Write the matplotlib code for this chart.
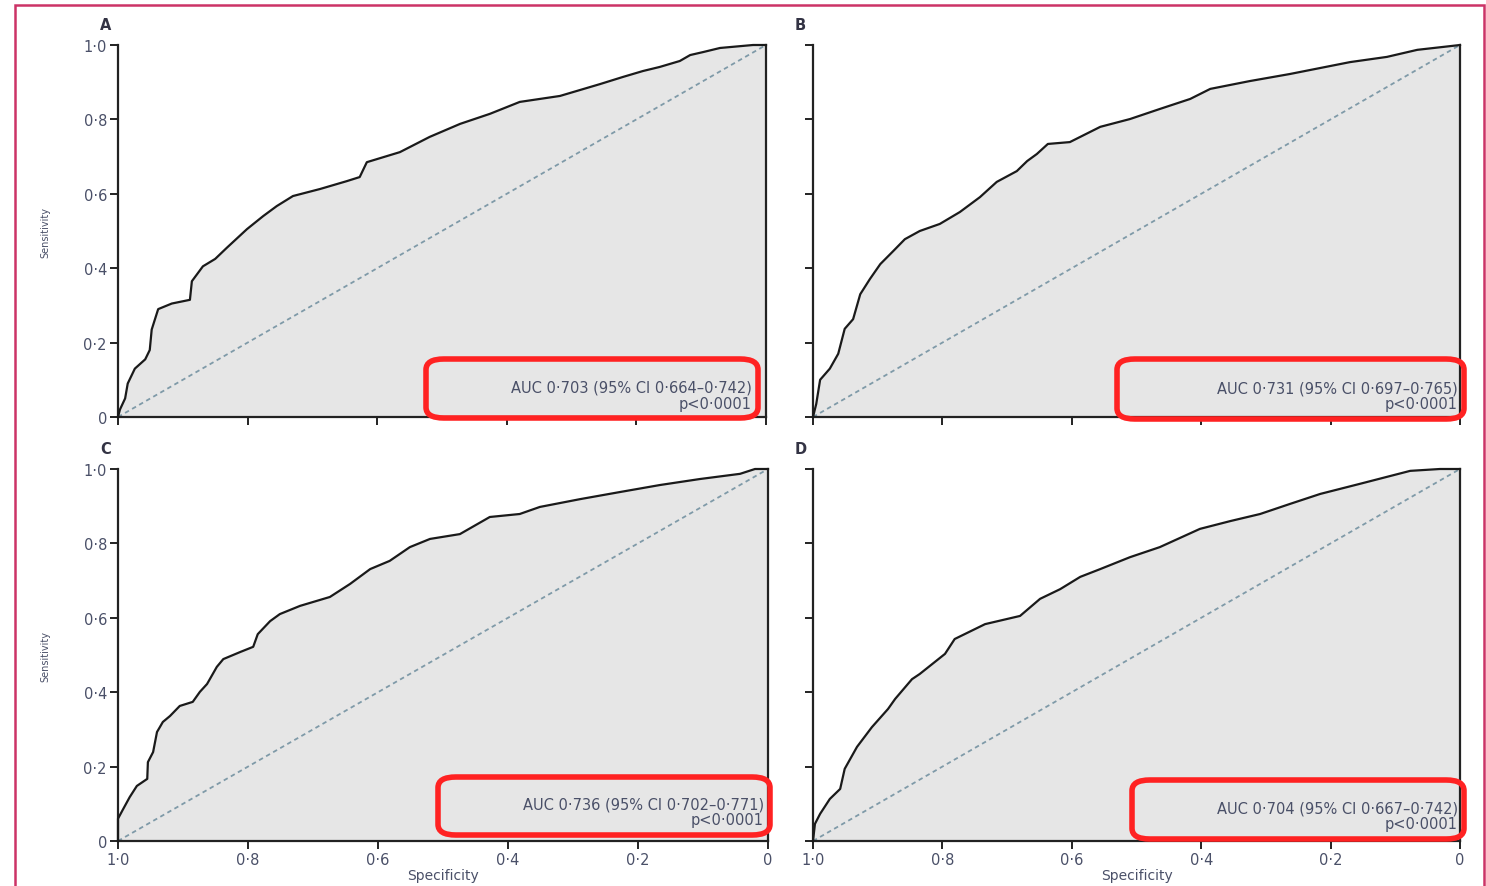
import matplotlib.pyplot as plt
import numpy as np
from matplotlib.patches import FancyBboxPatch, Rectangle

# ROC curves (specificity, sensitivity)
spec_a = [1.0, 0.997, 0.989, 0.985, 0.974, 0.958, 0.951, 0.948, 0.938, 0.917, 0.889, 0.886,
          0.869, 0.850, 0.832, 0.801, 0.776, 0.755, 0.730, 0.688, 0.647, 0.627, 0.616, 0.565,
          0.519, 0.472, 0.426, 0.380, 0.318, 0.256, 0.221, 0.190, 0.164, 0.133, 0.117, 0.097,
          0.071, 0.020, 0.0]
sens_a = [0.0, 0.02, 0.05, 0.09, 0.13, 0.155, 0.18, 0.235, 0.29, 0.305, 0.315, 0.365,
          0.405, 0.425, 0.455, 0.505, 0.54, 0.567, 0.594, 0.613, 0.634, 0.645, 0.685, 0.712,
          0.753, 0.788, 0.815, 0.847, 0.863, 0.895, 0.914, 0.930, 0.941, 0.957, 0.973, 0.981,
          0.992, 1.0, 1.0]

spec_b = [1.0, 0.995, 0.989, 0.974, 0.961, 0.951, 0.938, 0.927, 0.912, 0.896, 0.876, 0.858,
          0.835, 0.804, 0.773, 0.742, 0.716, 0.685, 0.669, 0.654, 0.637, 0.603, 0.556, 0.510,
          0.464, 0.417, 0.386, 0.325, 0.263, 0.170, 0.113, 0.066, 0.015, 0.0]
sens_b = [0.0, 0.035, 0.10, 0.13, 0.17, 0.237, 0.263, 0.33, 0.371, 0.411, 0.446, 0.478,
          0.5, 0.519, 0.551, 0.591, 0.632, 0.661, 0.688, 0.707, 0.734, 0.739, 0.78, 0.801,
          0.828, 0.855, 0.882, 0.903, 0.922, 0.954, 0.968, 0.987, 0.997, 1.0]

spec_c = [1.0, 1.0, 0.992, 0.982, 0.971, 0.955, 0.954, 0.946, 0.940, 0.931, 0.92, 0.905,
          0.885, 0.874, 0.863, 0.848, 0.838, 0.812, 0.792, 0.785, 0.766, 0.751, 0.72, 0.674,
          0.643, 0.612, 0.582, 0.551, 0.52, 0.474, 0.428, 0.382, 0.351, 0.289, 0.228, 0.166,
          0.105, 0.043, 0.02, 0.0]
sens_c = [0.0, 0.06, 0.086, 0.118, 0.148, 0.167, 0.212, 0.239, 0.293, 0.32, 0.336, 0.363,
          0.374, 0.401, 0.422, 0.468, 0.489, 0.508, 0.522, 0.556, 0.591, 0.61, 0.632, 0.656,
          0.691, 0.731, 0.753, 0.79, 0.812, 0.825, 0.871, 0.879, 0.898, 0.919, 0.938, 0.957,
          0.973, 0.987, 1.0, 1.0]

spec_d = [1.0, 0.997, 0.989, 0.974, 0.958, 0.951, 0.932, 0.909, 0.884, 0.873, 0.847, 0.835,
          0.796, 0.781, 0.734, 0.68, 0.649, 0.618, 0.587, 0.556, 0.51, 0.464, 0.402, 0.355,
          0.309, 0.263, 0.216, 0.155, 0.077, 0.031, 0.0]
sens_d = [0.0, 0.046, 0.073, 0.113, 0.14, 0.194, 0.253, 0.306, 0.355, 0.382, 0.435, 0.449,
          0.503, 0.543, 0.583, 0.605, 0.651, 0.677, 0.71, 0.731, 0.763, 0.79, 0.839, 0.86,
          0.879, 0.906, 0.933, 0.96, 0.995, 1.0, 1.0]

panel_labels = ['A', 'B', 'C', 'D']
auc_texts = ['AUC 0·703 (95% CI 0·664–0·742)', 'AUC 0·731 (95% CI 0·697–0·765)',
             'AUC 0·736 (95% CI 0·702–0·771)', 'AUC 0·704 (95% CI 0·667–0·742)']
p_text = 'p<0·0001'
tick_vals = [1.0, 0.8, 0.6, 0.4, 0.2, 0.0]
tick_labels = ['1·0', '0·8', '0·6', '0·4', '0·2', '0']

W, H = 1486, 887
fig = plt.figure(figsize=(W / 100, H / 100), dpi=100)
plt.rcParams['font.family'] = ['DejaVu Sans']
txt_col = '#4a5068'

# axes boxes in pixels: left, top, right, bottom
boxes = [(118, 46, 766, 418), (813, 46, 1460, 418),
         (118, 470, 768, 842), (813, 470, 1460, 842)]
# red annotation boxes in pixels: x0, y0, x1, y1
red_boxes = [(426, 360, 758, 419), (1117, 360, 1464, 420),
             (438, 778, 770, 836), (1132, 781, 1464, 840)]
curves = [(spec_a, sens_a), (spec_b, sens_b), (spec_c, sens_c), (spec_d, sens_d)]

for i, (l, t, r, b) in enumerate(boxes):
    ax = fig.add_axes([l / W, 1 - b / H, (r - l) / W, (b - t) / H])
    sp, se = curves[i]
    ax.fill_between(sp, se, 0, color='#e6e6e6', lw=0)
    ax.plot(sp, se, color='#1a1a1a', lw=1.6, clip_on=False, zorder=3)
    ax.plot([1, 0], [0, 1], color='#7f9aa8', lw=1.3, ls=(0, (2.5, 2)), zorder=2)
    ax.set_xlim(1, 0)
    ax.set_ylim(0, 1)
    for s in ['left', 'bottom', 'right']:
        ax.spines[s].set_linewidth(1.6)
        ax.spines[s].set_color('#222222')
    ax.spines['top'].set_visible(False)
    ax.set_xticks(tick_vals)
    ax.set_yticks(tick_vals)
    ax.tick_params(direction='out', length=6, width=1.4, color='#222222',
                   labelsize=10.5, labelcolor=txt_col, pad=2)
    if i in (0, 2):
        ax.set_yticklabels(tick_labels)
        ax.set_ylabel('Sensitivity', fontsize=7, color=txt_col, labelpad=24)
    else:
        ax.set_yticklabels([])
    if i in (2, 3):
        ax.set_xticklabels(tick_labels)
        ax.set_xlabel('Specificity', fontsize=10, color=txt_col, labelpad=1)
    else:
        ax.set_xticklabels([])
    fig.text((l - 18) / W, 1 - (t - 20) / H, panel_labels[i], fontsize=10.5,
             fontweight='bold', color='#333344', ha='left', va='center')

    x0, y0, x1, y1 = red_boxes[i]
    fig.patches.append(FancyBboxPatch((x0 / W, 1 - y1 / H), (x1 - x0) / W, (y1 - y0) / H,
                                      boxstyle='round,pad=0,rounding_size=0.012',
                                      transform=fig.transFigure, fill=False,
                                      edgecolor='#ff2222', lw=4, zorder=5))
    fig.text((x1 - 6) / W, 1 - (y1 - 31) / H, auc_texts[i], fontsize=10.5,
             color=txt_col, ha='right', va='center')
    fig.text((x1 - 6) / W, 1 - (y1 - 15) / H, p_text, fontsize=10.5,
             color=txt_col, ha='right', va='center')

# pink frame around the figure
fig.patches.append(Rectangle((15 / W, -0.05), (1484 - 15) / W, 1.05 - 6 / H,
                             transform=fig.transFigure, fill=False,
                             edgecolor='#cc3366', lw=1.8))

fig.savefig('out.png', dpi=100)
